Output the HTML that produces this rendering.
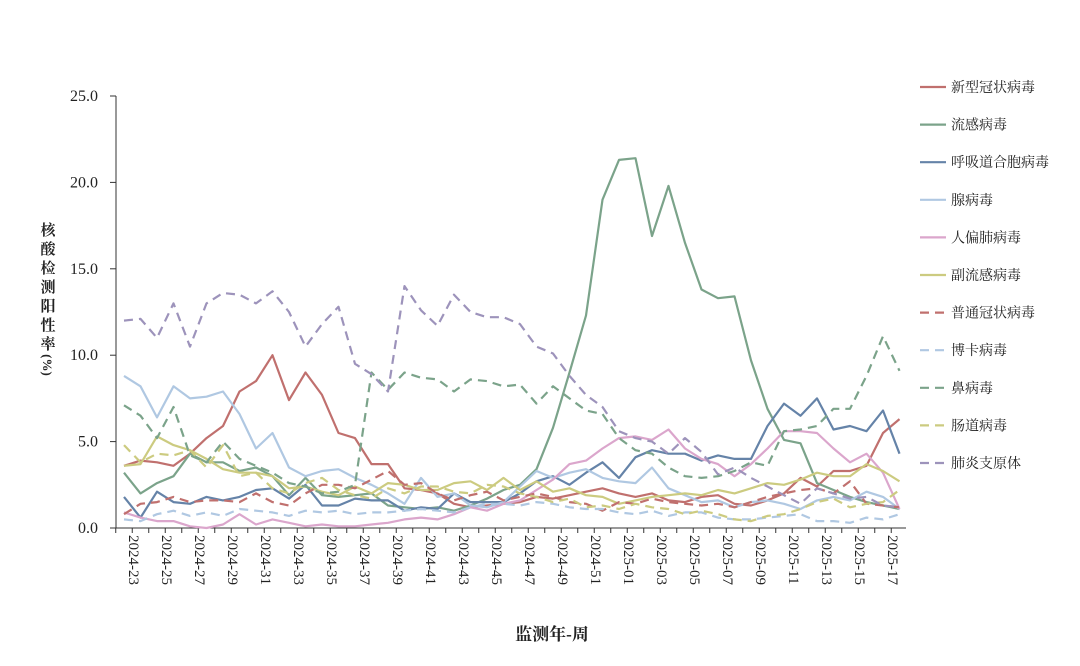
<!DOCTYPE html>
<html><head><meta charset="utf-8"><style>
body{margin:0;background:#fff;width:1080px;height:661px;overflow:hidden}
text{font-family:"Liberation Serif","Noto Serif CJK SC",serif;fill:#222}
.cn{font-family:"Liberation Serif","Noto Serif CJK SC",serif}
</style></head><body>
<svg id="s" width="1080" height="661" xmlns="http://www.w3.org/2000/svg">
<line x1="116" y1="96" x2="116" y2="528" stroke="#333" stroke-width="1"/>
<line x1="116" y1="528" x2="906" y2="528" stroke="#333" stroke-width="1"/>
<g font-size="15" font-weight="bold">
<text class="cn" x="48" y="235" text-anchor="middle" font-size="15" font-weight="bold">核</text>
<text class="cn" x="48" y="254" text-anchor="middle" font-size="15" font-weight="bold">酸</text>
<text class="cn" x="48" y="273" text-anchor="middle" font-size="15" font-weight="bold">检</text>
<text class="cn" x="48" y="292" text-anchor="middle" font-size="15" font-weight="bold">测</text>
<text class="cn" x="48" y="311" text-anchor="middle" font-size="15" font-weight="bold">阳</text>
<text class="cn" x="48" y="330" text-anchor="middle" font-size="15" font-weight="bold">性</text>
<text class="cn" x="48" y="349" text-anchor="middle" font-size="15" font-weight="bold">率</text>
<text class="cn" x="48" y="370" text-anchor="middle" font-size="13" transform="rotate(90 48 365)">(%)</text>
</g>
<text class="cn" x="552" y="640" text-anchor="middle" font-size="17" font-weight="bold">监测年-周</text>
</svg>
<script>
var s=document.getElementById('s'),NS='http://www.w3.org/2000/svg';
function el(t,a,txt){var e=document.createElementNS(NS,t);for(var k in a)e.setAttribute(k,a[k]);if(txt)e.textContent=txt;s.appendChild(e);return e;}
function Y(v){return 528-v*17.28;}
function X(i){return 124+i*16.5;}
for(var v=0;v<=25;v+=5){el('line',{x1:110,x2:116,y1:Y(v),y2:Y(v),stroke:'#333'});el('text',{x:98,y:Y(v)+5,'text-anchor':'end','font-size':16},v.toFixed(1));}
for(var i=0;i<48;i++){el('line',{x1:X(i)-8.25,x2:X(i)-8.25,y1:528,y2:533,stroke:'#333'});}
for(var i=0;i<48;i+=2){var w=i<30?'2024-'+(23+i):'2025-'+String(i-29).padStart(2,'0');var x=X(i)+5;el('text',{x:x,y:535,'font-size':15,transform:'rotate(90 '+x+' 535)'},w);}
var S=[
['新型冠状病毒','#c0706e',0,[3.6,3.9,3.8,3.6,4.3,5.2,5.9,7.9,8.5,10.0,7.4,9.0,7.7,5.5,5.2,3.7,3.7,2.3,2.2,2.0,1.4,1.2,1.3,1.4,1.5,1.8,1.7,1.9,2.1,2.3,2.0,1.8,2.0,1.6,1.5,1.8,1.9,1.4,1.3,1.6,2.0,2.9,2.4,3.3,3.3,3.6,5.5,6.3]],
['流感病毒','#7ba38a',0,[3.2,2.0,2.6,3.0,4.3,3.8,3.8,3.3,3.5,3.0,1.9,2.9,1.9,1.8,1.9,2.0,1.3,1.2,1.1,1.2,1.0,1.3,1.7,2.2,2.5,3.4,5.8,9.0,12.3,19.0,21.3,21.4,16.9,19.8,16.5,13.8,13.3,13.4,9.7,6.9,5.1,4.9,2.6,2.2,1.8,1.5,1.3,1.1]],
['呼吸道合胞病毒','#6583a8',0,[1.8,0.6,2.1,1.5,1.4,1.8,1.6,1.8,2.2,2.3,1.7,2.5,1.3,1.3,1.7,1.6,1.6,1.0,1.2,1.1,2.0,1.5,1.5,1.5,2.0,2.7,3.0,2.5,3.2,3.8,2.9,4.1,4.5,4.3,4.3,3.9,4.2,4.0,4.0,5.9,7.2,6.5,7.5,5.7,5.9,5.6,6.8,4.3]],
['腺病毒','#b0c8e2',0,[8.8,8.2,6.4,8.2,7.5,7.6,7.9,6.6,4.6,5.5,3.5,3.0,3.3,3.4,2.9,2.5,2.0,1.4,2.9,1.8,2.0,1.3,1.2,1.5,2.4,3.3,2.9,3.2,3.4,2.9,2.7,2.6,3.5,2.3,1.9,1.5,1.6,1.2,1.5,1.6,1.4,1.1,1.6,1.8,1.6,2.1,1.8,1.1]],
['人偏肺病毒','#dba6cc',0,[0.9,0.6,0.4,0.4,0.1,0.0,0.2,0.8,0.2,0.5,0.3,0.1,0.2,0.1,0.1,0.2,0.3,0.5,0.6,0.5,0.8,1.2,1.0,1.4,1.6,2.2,2.8,3.7,3.9,4.6,5.2,5.3,5.1,5.7,4.6,4.0,3.7,3.0,3.7,4.6,5.6,5.6,5.5,4.6,3.8,4.3,3.2,1.1]],
['副流感病毒','#cccb80',0,[3.6,3.7,5.3,4.8,4.5,4.0,3.4,3.2,3.2,3.0,2.3,2.4,2.1,1.9,2.4,2.0,2.6,2.5,2.2,2.2,2.6,2.7,2.2,2.9,2.2,2.7,2.1,2.3,1.9,1.8,1.4,1.6,1.8,1.9,2.0,1.9,2.2,2.0,2.3,2.6,2.5,2.8,3.2,3.0,3.0,3.7,3.3,2.7]],
['普通冠状病毒','#c0706e',1,[0.8,1.4,1.5,1.8,1.5,1.6,1.6,1.5,2.0,1.5,1.3,2.0,2.5,2.5,2.3,2.8,3.3,2.5,2.6,2.0,1.6,1.9,2.1,1.6,1.8,2.0,1.8,1.5,1.4,1.0,1.5,1.4,1.7,1.5,1.4,1.3,1.4,1.2,1.5,1.8,2.0,2.2,2.3,2.0,2.7,1.4,1.3,1.2]],
['博卡病毒','#b0c8e2',1,[0.5,0.4,0.8,1.0,0.7,0.9,0.7,1.1,1.0,0.9,0.7,1.0,0.9,1.0,0.8,0.9,0.9,1.0,1.1,1.0,0.9,1.2,1.4,1.4,1.3,1.5,1.4,1.2,1.1,1.1,0.9,0.8,1.0,0.7,0.9,0.9,0.6,0.5,0.5,0.6,0.7,0.8,0.4,0.4,0.3,0.6,0.5,0.8]],
['鼻病毒','#7ba38a',1,[7.1,6.5,5.2,7.0,4.2,3.8,5.0,4.0,3.6,3.2,2.6,2.4,2.0,2.1,2.5,9.0,8.0,9.0,8.7,8.6,7.9,8.6,8.5,8.2,8.3,7.2,8.2,7.5,6.8,6.6,5.2,4.5,4.3,3.5,3.0,2.9,3.0,3.3,3.8,3.6,5.6,5.7,5.9,6.9,6.9,8.8,11.1,9.1]],
['肠道病毒','#cccb80',1,[4.8,3.8,4.3,4.2,4.5,3.5,4.8,3.0,3.2,2.3,2.0,2.6,2.9,2.2,1.9,1.7,2.3,2.0,2.4,2.4,2.1,2.0,2.5,2.4,2.0,1.8,1.5,1.7,1.2,1.3,1.1,1.4,1.2,1.1,0.8,1.0,0.8,0.5,0.4,0.7,0.8,1.1,1.5,1.7,1.2,1.4,1.5,2.2]],
['肺炎支原体','#9d93bb',1,[12.0,12.1,11.0,13.0,10.5,13.0,13.6,13.5,13.0,13.7,12.5,10.5,11.8,12.8,9.5,8.9,7.9,14.0,12.6,11.7,13.5,12.5,12.2,12.2,11.8,10.5,10.1,8.8,7.7,7.0,5.6,5.2,5.0,4.3,5.2,4.4,3.1,3.5,2.9,2.4,1.9,1.4,2.3,2.0,1.7,1.8,1.3,1.2]]
];
S.forEach(function(r,k){var p=r[3].map(function(v,i){return X(i)+','+Y(v).toFixed(1)}).join(' ');
var a={points:p,fill:'none',stroke:r[1],'stroke-width':2.2,'stroke-linejoin':'round'};if(r[2])a['stroke-dasharray']='9,6';el('polyline',a);
var ly=87+k*37.6;var b={x1:920,x2:946,y1:ly,y2:ly,stroke:r[1],'stroke-width':2.2};if(r[2])b['stroke-dasharray']='9,6';el('line',b);
el('text',{x:951,y:ly+5,'font-size':14,'class':'cn'},r[0]);});
</script>
</body></html>
